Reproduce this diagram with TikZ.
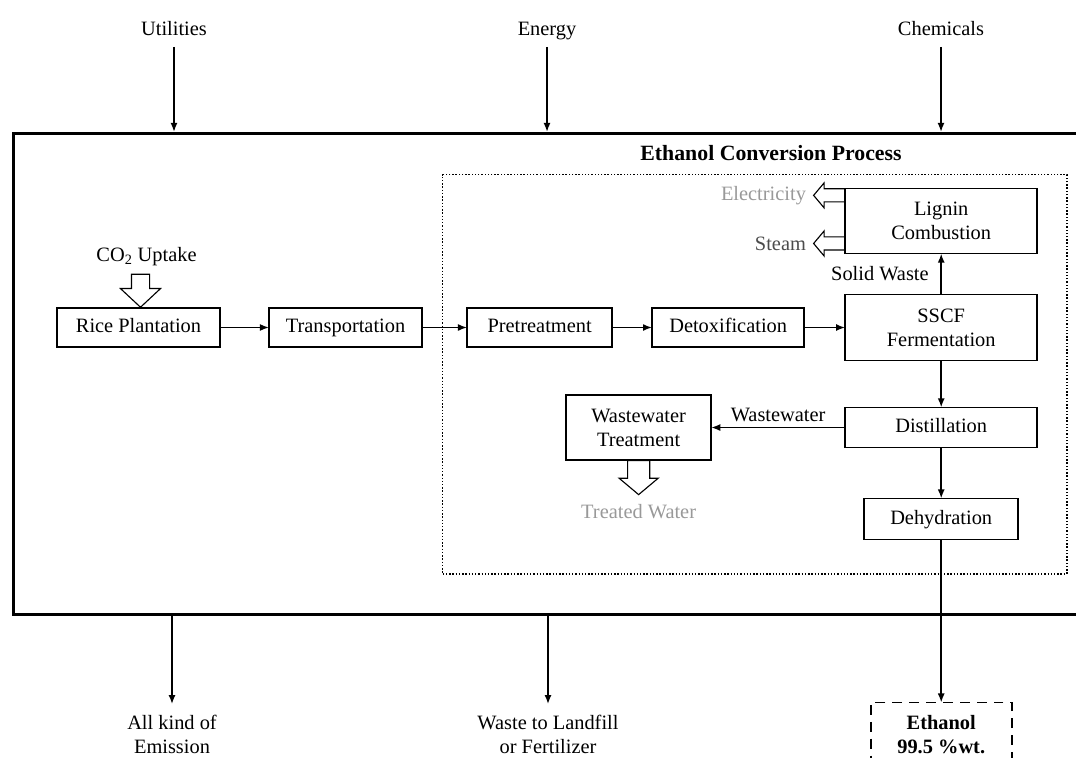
\documentclass[tikz,border=0pt]{standalone}
\usepackage{fontspec}
\setmainfont{Liberation Serif}
\usetikzlibrary{arrows.meta, positioning, shapes.arrows}

\begin{document}
\begin{tikzpicture}[x=0.025cm, y=-0.025cm,
        every node/.style={font=\fontsize{14.5}{17}\selectfont},
        proc/.style={rectangle, draw, line width=1.3pt, outer sep=0pt, align=center, inner sep=2pt, minimum height=0.975cm},
        oneline/.style={text height=2.0ex, text depth=0.35ex},
        plain/.style={align=center},
        product/.style={rectangle, draw, line width=1.2pt, outer sep=0pt, dash pattern=on 7pt off 5pt, align=center, font=\fontsize{14.5}{17}\selectfont\bfseries},
        arrow/.style={-{Latex[length=6.5pt,width=5pt]}, line width=1.2pt},
        hollow/.style={single arrow, draw, line width=0.8pt, inner sep=0.2125cm, minimum height=0.825cm, minimum width=0.975cm, single arrow head extend=0.275cm, single arrow tip angle=94},
        hollowsmall/.style={hollow, inner sep=0.15cm, minimum height=0.775cm, minimum width=0.6cm, single arrow head extend=0.15cm, single arrow tip angle=100},
        hollowwide/.style={hollow, inner sep=0.2625cm, minimum height=0.85cm, minimum width=0.95cm, single arrow head extend=0.2125cm, single arrow tip angle=100}
    ]
    \clip (0,0) rectangle (1076,757);

    % --- plant boundary and conversion area ---
    \node [draw, line width=2pt, inner sep=0pt, minimum width=27cm, minimum height=12.025cm, anchor=north west] (plant) at (12,132) {};
    \node [draw, line width=1pt, dash pattern=on 1pt off 1.3pt, inner sep=0pt, minimum width=15.6cm, minimum height=9.975cm, anchor=north west] (ecp) at (442,174) {};
    \node [font=\fontsize{15.5}{18}\selectfont\bfseries] (ecptitle) at (771,153) {Ethanol Conversion Process};

    % --- inputs ---
    \node [plain, oneline] (util) at (174,30) {Utilities};
    \node [plain, oneline] (energy) at (547,30) {Energy};
    \node [plain, oneline] (chem) at (941,30) {Chemicals};

    \draw [arrow, shorten <=3pt] (util.south) -- (util.south |- plant.north);
    \draw [arrow, shorten <=3pt] (energy.south) -- (energy.south |- plant.north);
    \draw [arrow, shorten <=3pt] (chem.south) -- (chem.south |- plant.north);

    % --- main chain ---
    \node [proc, oneline, minimum width=4.075cm] (rice) at (138.5,327.5) {Rice Plantation};
    \node [proc, oneline, minimum width=3.825cm, right=1.225cm of rice] (trans) {Transportation};
    \node [proc, oneline, minimum width=3.625cm, right=1.125cm of trans] (pretreat) {Pretreatment};
    \node [proc, oneline, minimum width=3.8cm, right=1.0cm of pretreat] (detox) {Detoxification};
    \node [proc, minimum width=4.8cm, minimum height=1.65cm, right=1.025cm of detox] (sscf) {SSCF\\Fermentation};
    \node [proc, minimum width=4.8cm, minimum height=1.625cm, above=1.025cm of sscf] (lignin) {Lignin\\Combustion};
    \node [proc, oneline, minimum width=4.8cm, minimum height=1.0cm, below=1.175cm of sscf] (dist) {Distillation};
    \node [proc, oneline, minimum width=3.85cm, minimum height=1.025cm, below=1.275cm of dist] (dehyd) {Dehydration};
    \node [proc, minimum width=3.625cm, minimum height=1.625cm, left=3.35cm of dist] (wwt) {Wastewater\\Treatment};
    \node [product, minimum width=3.525cm, below=4.075cm of dehyd] (ethanol) {\rule{0pt}{16pt}Ethanol\\99.5 \%wt.\\ \strut};

    \draw [arrow] (rice) -- (trans);
    \draw [arrow] (trans) -- (pretreat);
    \draw [arrow] (pretreat) -- (detox);
    \draw [arrow] (detox) -- (sscf);
    \draw [arrow] (sscf) -- node [left=5pt] (swlabel) {Solid Waste} (lignin);
    \draw [arrow] (sscf) -- (dist);
    \draw [arrow] (dist) -- node [above] (wwlabel) {Wastewater} (wwt);
    \draw [arrow] (dist) -- (dehyd);
    \draw [arrow] (dehyd) -- (ethanol);

    % --- hollow flows ---
    \node [hollow, shape border rotate=270, anchor=tip] (co2arr) at ([xshift=0.05cm]rice.north) {};
    \node [plain, above=0.08cm of co2arr, xshift=0.15cm] (co2) {CO\textsubscript{2} Uptake};

    \node [hollowsmall, shape border rotate=180, anchor=tail] (elecarr) at ([yshift=0.64cm]lignin.west) {};
    \node [plain, text=black!40, left=0.05cm of elecarr.tip] (elec) {Electricity};
    \node [hollowsmall, shape border rotate=180, anchor=tail] (steamarr) at ([yshift=-0.5625cm]lignin.west) {};
    \node [plain, text=black!70, left=0.05cm of steamarr.tip] (steam) {Steam};

    \node [hollowwide, shape border rotate=270, anchor=tail] (twarr) at (wwt.south) {};
    \node [plain, text=black!40, below=0.1cm of twarr] (treated) {Treated Water};

    % --- outputs ---
    \node [plain] (emission) at (172,734) {All kind of\\Emission};
    \node [plain] (landfill) at (548,734) {Waste to Landfill\\or Fertilizer};

    \draw [arrow, shorten >=4pt] (emission.north |- plant.south) -- (emission.north);
    \draw [arrow, shorten >=4pt] (landfill.north |- plant.south) -- (landfill.north);

\end{tikzpicture}
\end{document}
